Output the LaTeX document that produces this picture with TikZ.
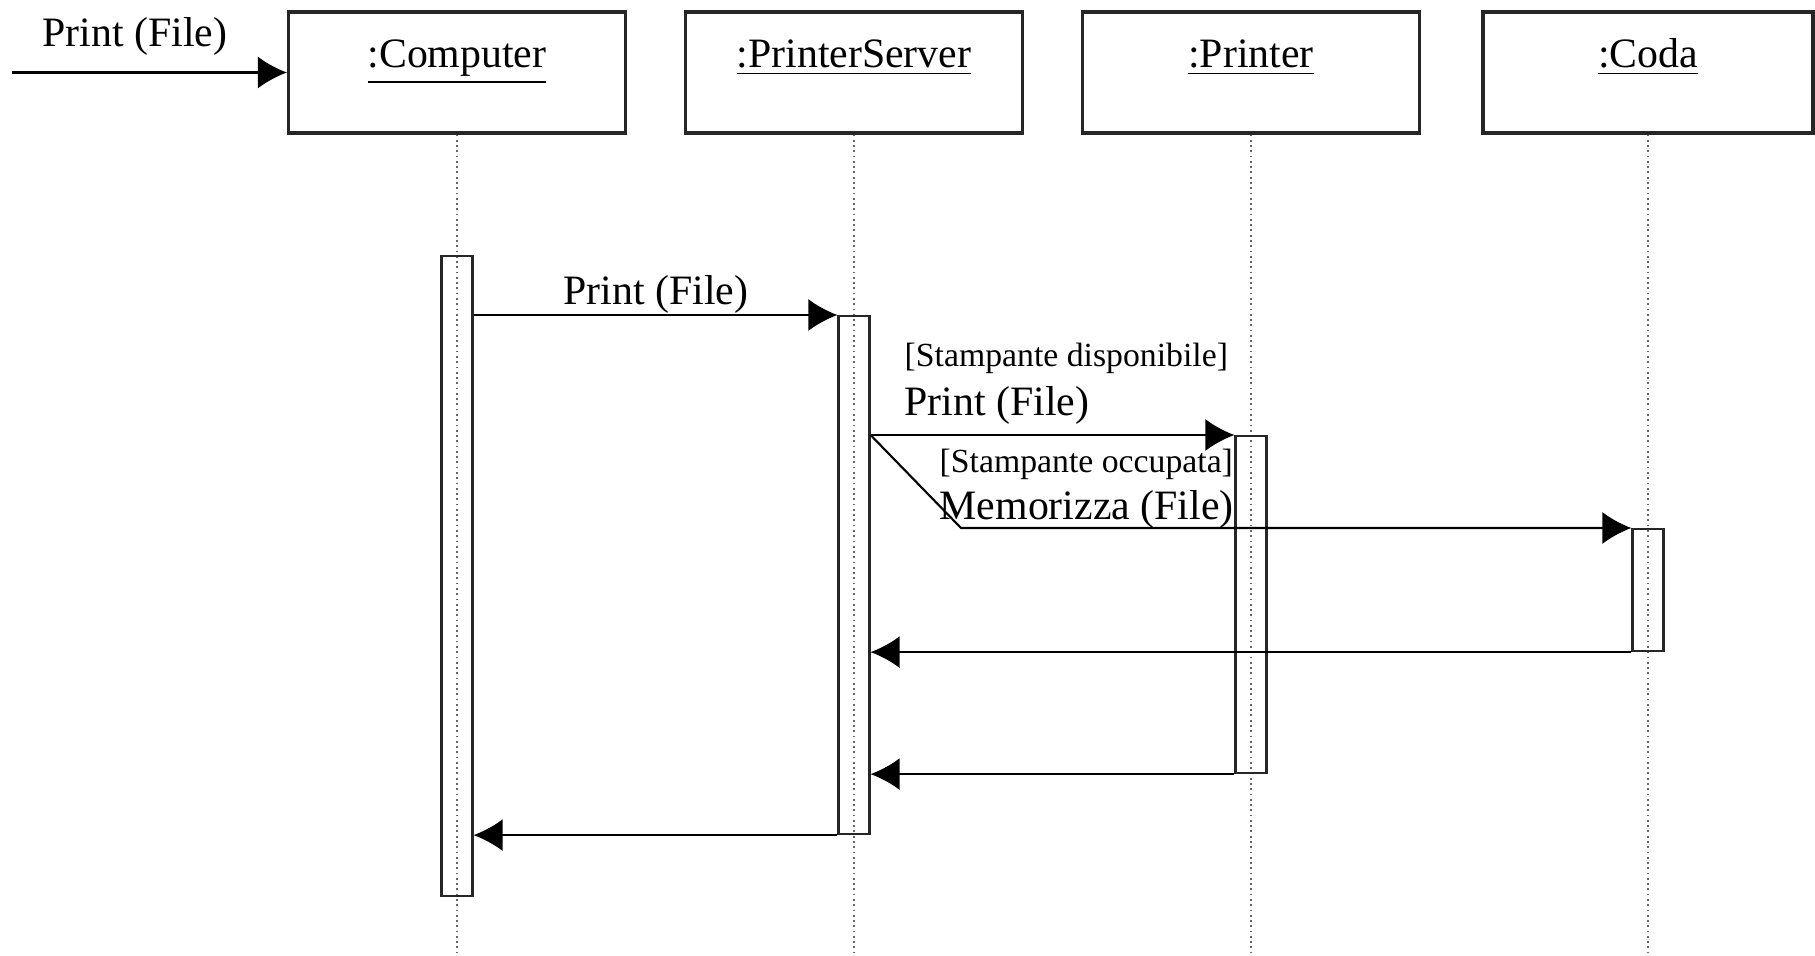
\documentclass[tikz,border=0pt]{standalone}
\usepackage{fontspec}
\setmainfont{Liberation Serif}
\usetikzlibrary{calc, arrows.meta}

\begin{document}
\begin{tikzpicture}[
        objbox/.style={rectangle, draw=black!85, line width=0.9pt, minimum width=3.37cm, inner sep=0.1cm, text height=0.46cm, text depth=0.55cm, font=\fontsize{11.9}{14}\selectfont},
        lifeline/.style={densely dotted, black!60, line width=0.5pt},
        activation/.style={rectangle, draw=black!85, line width=0.6pt, minimum width=0.31cm, inner sep=0pt, anchor=north},
        msg/.style={-{Latex[length=2.9mm, width=3.2mm]}, line width=0.6pt},
        bigtext/.style={inner sep=0pt, font=\fontsize{11.9}{14}\selectfont},
        smalltext/.style={inner sep=0pt, font=\fontsize{9.6}{11}\selectfont}
    ]

        \useasboundingbox (0,0) rectangle (18.15,-9.56);

        %% Objects
        \node (computer) [objbox] at (4.57,-0.725) {\underline{:Computer}};
        \node (server) [objbox] at (8.54,-0.725) {\underline{:PrinterServer}};
        \node (printer) [objbox] at (12.51,-0.725) {\underline{:Printer}};
        \node (coda) [objbox, minimum width=3.3cm] at (16.48,-0.725) {\underline{:Coda}};

        %% Lifelines
        \coordinate (computer-end) at (4.57,-9.56);
        \coordinate (server-end) at (8.54,-9.56);
        \coordinate (printer-end) at (12.51,-9.56);
        \coordinate (coda-end) at (16.48,-9.56);
        \draw [lifeline] (computer) -- (computer-end);
        \draw [lifeline] (server) -- (server-end);
        \draw [lifeline] (printer) -- (printer-end);
        \draw [lifeline] (coda) -- (coda-end);

        %% Activations
        \node (act-computer) [activation, minimum height=6.40cm] at (4.57,-2.55) {};
        \node (act-server) [activation, minimum height=5.18cm] at (8.54,-3.15) {};
        \node (act-printer) [activation, minimum height=3.37cm] at (12.51,-4.35) {};
        \node (act-coda) [activation, minimum height=1.22cm] at (16.48,-5.28) {};

        %% Incoming message
        \coordinate (start) at (0.12,-0.725);
        \draw [msg] (start) -- (computer.west);
        \node (lbl-start) [bigtext] at (1.35,-0.365) {Print (File)};

        %% Computer -> PrinterServer
        \draw [msg] (act-computer.east |- act-server.north) -- (act-server.north west);
        \node (lbl-print) [bigtext] at (6.56,-2.945) {Print (File)};

        %% PrinterServer -> Printer / Coda
        \coordinate (branch) at (act-server.east |- act-printer.north);
        \coordinate (bend) at (9.61,-5.28);
        \draw [msg] (branch) -- (act-printer.north west);
        \draw [msg] (branch) -- (bend) -- (act-coda.north west);
        \node (lbl-free) [smalltext, anchor=west] at (9.04,-3.58) {[Stampante disponibile]};
        \node (lbl-print2) [bigtext, anchor=west] at (9.04,-4.05) {Print (File)};
        \node (lbl-busy) [smalltext, anchor=west] at (9.39,-4.64) {[Stampante occupata]};
        \node (lbl-store) [bigtext, anchor=west] at (9.39,-5.09) {Memorizza (File)};

        %% Returns
        \draw [msg] (act-coda.south west) -- (act-server.east |- act-coda.south);
        \draw [msg] (act-printer.south west) -- (act-server.east |- act-printer.south);
        \draw [msg] (act-server.south west) -- (act-computer.east |- act-server.south);

\end{tikzpicture}
\end{document}
